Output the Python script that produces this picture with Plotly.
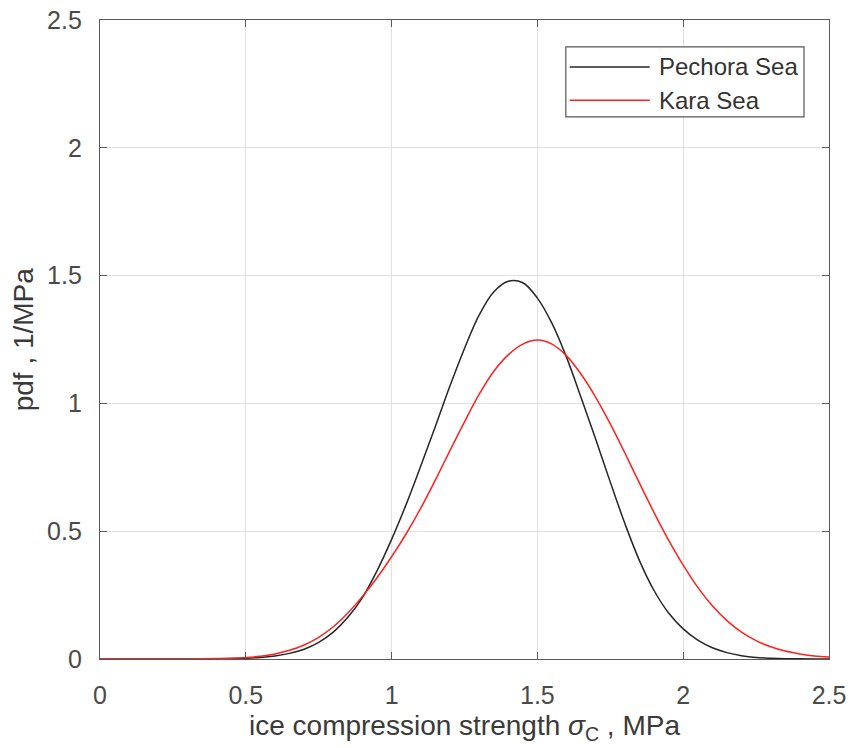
import plotly.graph_objects as go

# ---- data ----
strength = [0.00, 0.05, 0.10, 0.15, 0.20, 0.25, 0.30, 0.35, 0.40, 0.45,
            0.50, 0.55, 0.60, 0.65, 0.70, 0.75, 0.80, 0.85, 0.90, 0.95,
            1.00, 1.05, 1.10, 1.15, 1.20, 1.25, 1.30, 1.35, 1.40, 1.45,
            1.50, 1.55, 1.60, 1.65, 1.70, 1.75, 1.80, 1.85, 1.90, 1.95,
            2.00, 2.05, 2.10, 2.15, 2.20, 2.25, 2.30, 2.35, 2.40, 2.45, 2.50]

pdf_pechora = [0.0, 0.0, 0.0, 0.0, 0.0, 0.0, 0.0001, 0.0003, 0.0008, 0.0015,
               0.003, 0.006, 0.012, 0.022, 0.038, 0.065, 0.105, 0.163, 0.24, 0.345,
               0.468, 0.605, 0.755, 0.91, 1.068, 1.215, 1.345, 1.436, 1.478, 1.472,
               1.412, 1.313, 1.18, 1.022, 0.86, 0.692, 0.53, 0.385, 0.268, 0.18,
               0.118, 0.074, 0.044, 0.025, 0.013, 0.006, 0.003, 0.0012, 0.0005, 0.0002, 0.0001]

pdf_kara = [0.0, 0.0, 0.0, 0.0, 0.0, 0.0001, 0.0003, 0.0007, 0.0015, 0.003,
            0.006, 0.011, 0.02, 0.034, 0.055, 0.085, 0.126, 0.18, 0.245, 0.318,
            0.40, 0.49, 0.59, 0.70, 0.815, 0.928, 1.035, 1.125, 1.19, 1.232,
            1.248, 1.232, 1.186, 1.114, 1.024, 0.92, 0.806, 0.688, 0.573, 0.465,
            0.367, 0.28, 0.208, 0.15, 0.105, 0.072, 0.048, 0.031, 0.02, 0.012, 0.008]

series_names = ["Pechora Sea", "Kara Sea"]
series_colors = ["#262626", "#ff2020"]
tick_vals = [0, 0.5, 1, 1.5, 2, 2.5]
tick_text = ["0", "0.5", "1", "1.5", "2", "2.5"]

FONT = "Liberation Sans, Arial, Helvetica, sans-serif"
AXC = "#5a5a5a"

fig = go.Figure()
for name, ys, col in zip(series_names, [pdf_pechora, pdf_kara], series_colors):
    fig.add_trace(go.Scatter(x=strength, y=ys, mode="lines", name=name,
                             line=dict(color=col, width=1.5, shape="spline", smoothing=1.0),
                             showlegend=False))

axis_common = dict(range=[0, 2.5], tickvals=tick_vals, ticktext=tick_text,
                   showgrid=True, gridcolor="#e2e2e2", gridwidth=1,
                   showline=True, linecolor=AXC, linewidth=1.3, mirror="ticks",
                   ticks="inside", ticklen=7, tickcolor=AXC, tickwidth=1,
                   zeroline=False, automargin=False,
                   tickfont=dict(family=FONT, size=25, color="#4a4a4a"))

fig.update_layout(
    width=852, height=747,
    margin=dict(l=100, r=23, t=20, b=88, pad=0),
    paper_bgcolor="white", plot_bgcolor="white",
    xaxis=dict(**axis_common, ticklabelstandoff=14),
    yaxis=dict(**axis_common, ticklabelstandoff=12),
    showlegend=False,
)

# axis titles
fig.add_annotation(text="ice compression strength <i>σ</i><sub>C</sub> , MPa",
                   xref="paper", yref="paper", x=0.5, y=-0.1075,
                   xanchor="center", yanchor="middle", showarrow=False,
                   font=dict(family=FONT, size=28, color="#3a3a3a"))
fig.add_annotation(text="pdf , 1/MPa", textangle=-90,
                   xref="paper", yref="paper", x=-0.1045, y=0.5,
                   xanchor="center", yanchor="middle", showarrow=False,
                   font=dict(family=FONT, size=28, color="#3a3a3a"))

# legend (MATLAB style box)
fig.add_shape(type="rect", xref="paper", yref="paper",
              x0=0.639, x1=0.9657, y0=0.8483, y1=0.958,
              line=dict(color="#555555", width=1.2), fillcolor="white", layer="above")
legend_y = [0.9266, 0.8743]
for name, col, ly in zip(series_names, series_colors, legend_y):
    fig.add_shape(type="line", xref="paper", yref="paper",
                  x0=0.6443, x1=0.7541, y0=ly, y1=ly,
                  line=dict(color=col, width=1.5), layer="above")
    fig.add_annotation(text=name, xref="paper", yref="paper", x=0.7641, y=ly,
                       xanchor="left", yanchor="middle", showarrow=False,
                       font=dict(family=FONT, size=24, color="#333333"))

fig.write_html("out.html")
